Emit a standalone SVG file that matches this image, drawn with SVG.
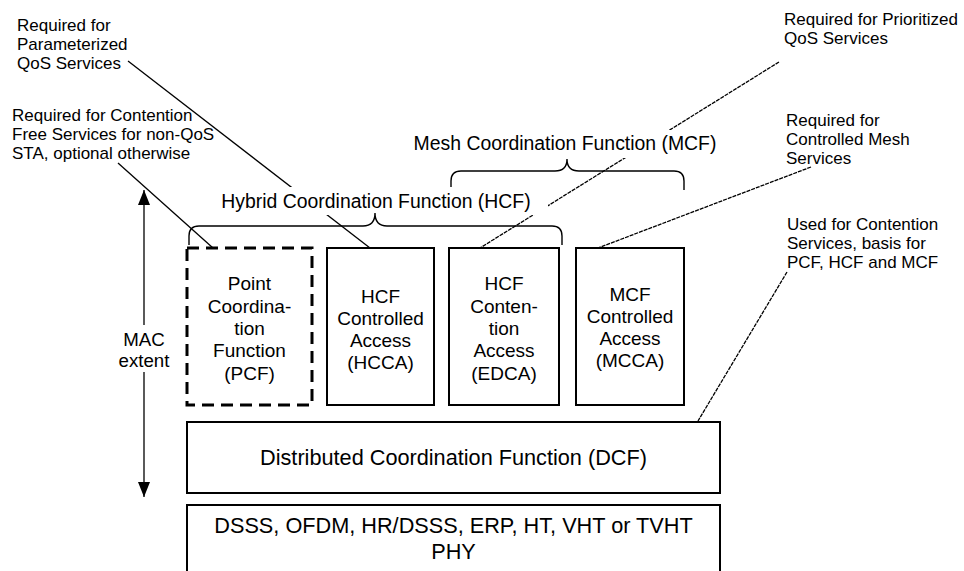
<svg xmlns="http://www.w3.org/2000/svg" width="964" height="571" viewBox="0 0 964 571">
<defs>
<style>
text{font-family:"Liberation Sans",Arial,sans-serif;fill:#000}
.ann{font-size:17px}
.box{font-size:19px;text-anchor:middle}
.big{font-size:21.7px;text-anchor:middle}
.grp{font-size:19.4px;text-anchor:middle}
.mac{font-size:18.7px;text-anchor:middle}
.solid{fill:#fff;stroke:#000;stroke-width:2}
.dash{fill:#fff;stroke:#000;stroke-width:3;stroke-dasharray:12 7}
.lead{fill:none;stroke:#000;stroke-width:1.3}
.dot{stroke-dasharray:4 1}
.brace{fill:none;stroke:#000;stroke-width:1.4}
.mask{fill:#fff;stroke:none}
</style>
<marker id="arr" viewBox="0 0 15 12" refX="15" refY="6" markerWidth="15" markerHeight="12" markerUnits="userSpaceOnUse" orient="auto-start-reverse">
<path d="M0,0 L15,6 L0,12 z" fill="#000"/>
</marker>
</defs>

<g id="connectors">
<line class="lead" x1="128" y1="61" x2="370" y2="248"/>
<line class="lead" x1="118" y1="163" x2="213" y2="248"/>
<line class="lead dot" x1="779" y1="62" x2="480" y2="248"/>
<line class="lead dot" x1="811" y1="167" x2="598" y2="248"/>
<line class="lead dot" x1="787" y1="272" x2="698" y2="421"/>
<line class="lead" x1="144" y1="190" x2="144" y2="497" marker-start="url(#arr)" marker-end="url(#arr)"/>
</g>

<g id="mac-extent">
<rect class="mask" x="115" y="325" width="58" height="47"/>
<text class="mac" x="144" y="346">MAC</text>
<text class="mac" x="144" y="367">extent</text>
</g>

<g id="mcf-group">
<rect class="mask" x="400" y="130" width="330" height="28"/>
<text class="grp" x="565" y="150">Mesh Coordination Function (MCF)</text>
<path class="brace" d="M451,189 V181 Q451,171 461,171 H555 Q567,171 567,159 Q567,171 579,171 H674 Q684,171 684,181 V190"/>
</g>

<g id="hcf-group">
<rect class="mask" x="202" y="187" width="346" height="28"/>
<text class="grp" x="376" y="208">Hybrid Coordination Function (HCF)</text>
<path class="brace" d="M189,245 V236 Q189,226 199,226 H363 Q375,226 375,213 Q375,226 387,226 H552 Q562,226 562,236 V245"/>
</g>

<g id="note-pqos">
<text class="ann" x="17" y="31">Required for</text>
<text class="ann" x="17" y="50">Parameterized</text>
<text class="ann" x="17" y="69">QoS Services</text>
</g>

<g id="note-cf">
<text class="ann" x="12" y="121">Required for Contention</text>
<text class="ann" x="12" y="140">Free Services for non-QoS</text>
<text class="ann" x="12" y="159">STA, optional otherwise</text>
</g>

<g id="note-prio">
<text class="ann" x="784" y="25">Required for Prioritized</text>
<text class="ann" x="784" y="44">QoS Services</text>
</g>

<g id="note-mesh">
<text class="ann" x="786" y="126">Required for</text>
<text class="ann" x="786" y="145">Controlled Mesh</text>
<text class="ann" x="786" y="164">Services</text>
</g>

<g id="note-dcf">
<text class="ann" x="787" y="230">Used for Contention</text>
<text class="ann" x="787" y="249">Services, basis for</text>
<text class="ann" x="787" y="268">PCF, HCF and MCF</text>
</g>

<g id="pcf">
<rect class="dash" x="187" y="248" width="125" height="157"/>
<text class="box" x="249.5" y="290">Point</text>
<text class="box" x="249.5" y="313">Coordina-</text>
<text class="box" x="249.5" y="335">tion</text>
<text class="box" x="249.5" y="357">Function</text>
<text class="box" x="249.5" y="380">(PCF)</text>
</g>

<g id="hcca">
<rect class="solid" x="327" y="248" width="107" height="157"/>
<text class="box" x="380.5" y="303">HCF</text>
<text class="box" x="380.5" y="325">Controlled</text>
<text class="box" x="380.5" y="347">Access</text>
<text class="box" x="380.5" y="369">(HCCA)</text>
</g>

<g id="edca">
<rect class="solid" x="449" y="248" width="110" height="157"/>
<text class="box" x="504" y="290">HCF</text>
<text class="box" x="504" y="313">Conten-</text>
<text class="box" x="504" y="335">tion</text>
<text class="box" x="504" y="357">Access</text>
<text class="box" x="504" y="380">(EDCA)</text>
</g>

<g id="mcca">
<rect class="solid" x="576" y="248" width="108" height="157"/>
<text class="box" x="630" y="301">MCF</text>
<text class="box" x="630" y="323">Controlled</text>
<text class="box" x="630" y="345">Access</text>
<text class="box" x="630" y="367">(MCCA)</text>
</g>

<g id="dcf">
<rect class="solid" x="187" y="422" width="533" height="71"/>
<text class="big" x="453.5" y="465">Distributed Coordination Function (DCF)</text>
</g>

<g id="phy">
<rect class="solid" x="187" y="505" width="533" height="80"/>
<text class="big" x="453.5" y="533">DSSS, OFDM, HR/DSSS, ERP, HT, VHT or TVHT</text>
<text class="big" x="453.5" y="559">PHY</text>
</g>
</svg>
